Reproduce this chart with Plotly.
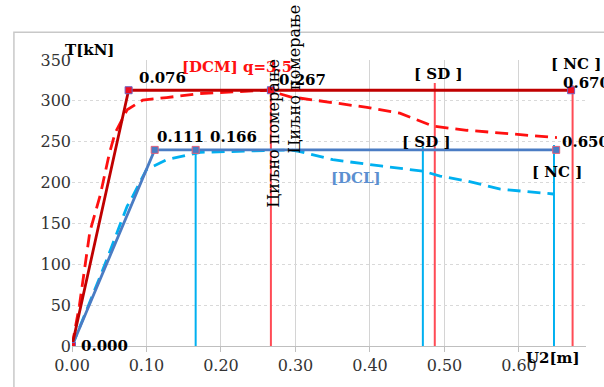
import plotly.graph_objects as go

# ---- data ----
# DCM q=3.5 pushover (dashed) and idealised bilinear
dcm_push_x = [0.0, 0.010, 0.024, 0.038, 0.050, 0.058, 0.074, 0.095, 0.127, 0.172, 0.216, 0.262,
              0.293, 0.350, 0.396, 0.440, 0.485, 0.530, 0.575, 0.651]
dcm_push_y = [0, 50, 140, 185, 235, 261, 289, 301, 304, 309, 311, 313,
              305, 298, 292, 285, 269, 264, 261, 255]
dcm_bil_x = [0.0, 0.076, 0.267, 0.670]
dcm_bil_y = [0, 313, 313, 313]

# DCL pushover (dashed) and idealised bilinear
dcl_push_x = [0.0, 0.040, 0.074, 0.082, 0.100, 0.127, 0.172, 0.216, 0.293, 0.306, 0.350, 0.417,
              0.471, 0.494, 0.530, 0.575, 0.646]
dcl_push_y = [0, 90, 171, 184, 216, 228, 237, 238, 240, 238, 228, 220,
              214, 208, 202, 192, 186]
dcl_bil_x = [0.0, 0.111, 0.166, 0.650]
dcl_bil_y = [0, 240, 240, 240]

# vertical markers: target displacement, SD, NC
dcm_vert_x = [0.267, 0.487, 0.672]
dcm_vert_top = [313, 322, 319]
dcl_vert_x = [0.166, 0.471, 0.647]
dcl_vert_top = [240, 244, 246]

x_ticks = [0.0, 0.1, 0.2, 0.3, 0.4, 0.5, 0.6]
x_tick_labels = ["0.00", "0.10", "0.20", "0.30", "0.40", "0.50", "0.60"]
y_ticks = [0, 50, 100, 150, 200, 250, 300, 350]

RED_DARK = "#C00000"
RED = "#FF1010"
RED_V = "#FF4B55"
BLUE = "#4A7CC4"
CYAN = "#00B0F0"
SERIF = "DejaVu Serif"

fig = go.Figure()

# vertical lines
for xv, yt in zip(dcl_vert_x, dcl_vert_top):
    fig.add_trace(go.Scatter(x=[xv, xv], y=[0, yt], mode="lines",
                             line=dict(color=CYAN, width=2), showlegend=False, hoverinfo="skip"))
for xv, yt in zip(dcm_vert_x, dcm_vert_top):
    fig.add_trace(go.Scatter(x=[xv, xv], y=[0, yt], mode="lines",
                             line=dict(color=RED_V, width=2), showlegend=False, hoverinfo="skip"))

# pushover curves (dashed)
fig.add_trace(go.Scatter(x=dcl_push_x, y=dcl_push_y, mode="lines",
                         line=dict(color=CYAN, width=2.8, dash="13px,7px"), showlegend=False))
fig.add_trace(go.Scatter(x=dcm_push_x, y=dcm_push_y, mode="lines",
                         line=dict(color=RED, width=2.8, dash="13px,7px"), showlegend=False))

# bilinear curves
fig.add_trace(go.Scatter(x=dcl_bil_x, y=dcl_bil_y, mode="lines+markers",
                         line=dict(color=BLUE, width=2.8),
                         marker=dict(symbol="square", size=7, color=BLUE,
                                     line=dict(color="#E0607A", width=1)),
                         showlegend=False))
fig.add_trace(go.Scatter(x=dcm_bil_x, y=dcm_bil_y, mode="lines+markers",
                         line=dict(color=RED_DARK, width=2.8),
                         marker=dict(symbol="square", size=7, color="#F01020",
                                     line=dict(color="#7060C0", width=1)),
                         showlegend=False))

ann = []
def label(x, y, text, color="black", size=15, xanchor="center", bold=True, textangle=0):
    t = "<b>%s</b>" % text if bold else text
    ann.append(dict(x=x, y=y, xref="x", yref="y", text=t, showarrow=False,
                    font=dict(family=SERIF, size=size, color=color),
                    xanchor=xanchor, yanchor="middle", textangle=textangle))

label(0.122, 328, "0.076")
label(0.310, 325, "0.267")
label(0.657, 322, "0.670", xanchor="left")
label(0.146, 256, "0.111")
label(0.217, 256, "0.166")
label(0.655, 250, "0.650", xanchor="left")
label(0.044, 0, "0.000", xanchor="center")
label(0.491, 333, "[ SD ]")
label(0.677, 345, "[ NC ]")
label(0.475, 250, "[ SD ]")
label(0.651, 213, "[ NC ]")
label(0.221, 342, "[DCM] q=3.5", color=RED)
label(0.381, 206, "[DCL]", color="#5B8FD0")
label(0.270, 260, "Циљно померање", bold=False, size=16, textangle=-90)
label(0.299, 327, "Циљно померање", bold=False, size=16, textangle=-90)

# axis titles
ann.append(dict(x=0.035, y=1.035, xref="paper", yref="paper", text="<b>T[kN]</b>",
                showarrow=False, font=dict(family=SERIF, size=15, color="black"),
                xanchor="center", yanchor="middle"))
ann.append(dict(x=0.935, y=-0.042, xref="paper", yref="paper", text="<b>U2[m]</b>",
                showarrow=False, font=dict(family=SERIF, size=15, color="black"),
                xanchor="center", yanchor="middle"))

fig.update_layout(
    width=604, height=387,
    margin=dict(l=72, r=18, t=60, b=38),
    paper_bgcolor="white", plot_bgcolor="white",
    annotations=ann,
    shapes=[dict(type="rect", xref="paper", yref="paper",
                 x0=-0.113, x1=1.1, y0=-0.3, y1=1.097,
                 line=dict(color="#C8C8C8", width=1.5), fillcolor="rgba(0,0,0,0)",
                 layer="below")],
    xaxis=dict(range=[0, 0.69], tickvals=x_ticks, ticktext=x_tick_labels,
               showgrid=True, gridcolor="#D4D4D4", gridwidth=1,
               zeroline=False, showline=True, linecolor="#BFBFBF", linewidth=1,
               ticks="outside", ticklen=5, tickcolor="#BFBFBF",
               tickfont=dict(family=SERIF, size=16, color="#333333")),
    yaxis=dict(range=[0, 350], tickvals=y_ticks,
               showgrid=True, gridcolor="#D9D9D9", gridwidth=1, griddash="dot",
               zeroline=False, showline=False, ticks="",
               tickfont=dict(family=SERIF, size=16, color="#333333")),
)

fig.write_html("out.html")
